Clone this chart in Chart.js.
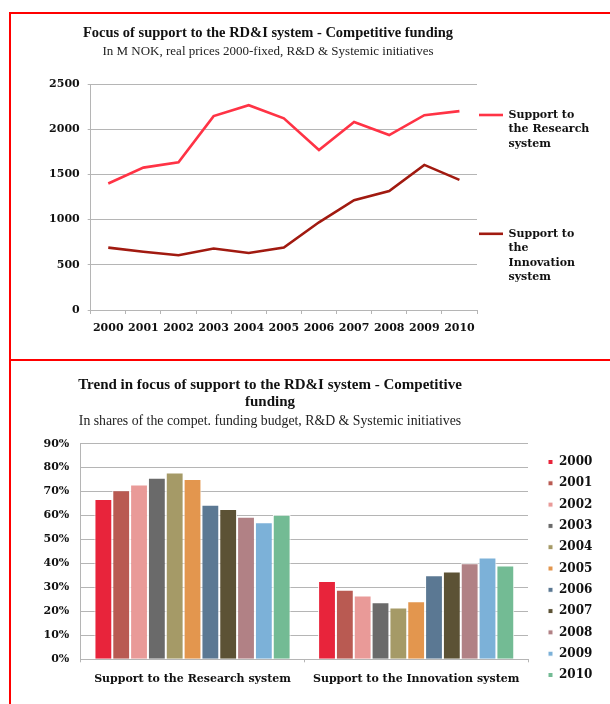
<!DOCTYPE html>
<html>
<head>
<meta charset="utf-8">
<script src="https://cdn.jsdelivr.net/npm/chart.js@4.4.1/dist/chart.umd.min.js"></script>
<style>
  body { margin: 0; background: #fff; overflow: hidden; }
  .frame { position: absolute; left: 9px; top: 12px; width: 620px; height: 720px;
           border-left: 2px solid #f00; border-top: 2px solid #f00; }
  .divider { position: absolute; left: 9px; top: 359px; width: 610px; height: 2px; background: #f00; }
  canvas { position: absolute; }
  /* canvases start left of the page so the centred titles land where the original has them */
  #nokChart { left: -58px; top: 14px; }
  #shareChart { left: -60px; top: 362px; }
</style>
</head>
<body>
<div class="frame"></div>
<div class="divider"></div>
<canvas id="nokChart" width="652" height="345"></canvas>
<canvas id="shareChart" width="660" height="342"></canvas>
<script>
// Top chart: M NOK per year
const years = ['2000', '2001', '2002', '2003', '2004', '2005', '2006', '2007', '2008', '2009', '2010'];
const researchNok = [1400, 1575, 1635, 2145, 2265, 2120, 1770, 2080, 1935, 2155, 2200];
const innovationNok = [690, 645, 605, 680, 630, 690, 970, 1215, 1315, 1605, 1440];

// Bottom chart: shares (%) per group and year
const groups = ['Support to the Research system', 'Support to the Innovation system'];
const researchShare = [66.9, 70.6, 73.0, 75.8, 78.0, 75.2, 64.5, 62.7, 59.5, 57.2, 60.3];
const innovationShare = [32.7, 29.0, 26.6, 23.8, 21.6, 24.2, 35.1, 36.6, 40.1, 42.5, 39.1];
const yearColors = ['#e8243b', '#b95a52', '#e99a98', '#6a6a6a', '#a59a67', '#e3964e',
                    '#5b7893', '#5c5235', '#b18185', '#7cb1d8', '#73bb94'];

const serif = 'DejaVu Serif';
const titleSerif = 'Liberation Serif';
const ink = '#111';
const gridGray = '#b5b5b5';

Chart.defaults.font.family = serif;
Chart.defaults.color = ink;
Chart.defaults.animation = false;

const defaultLabels = Chart.defaults.plugins.legend.labels.generateLabels;

// legend text wrapped like the original; blank lines keep the two items apart
const nokLegendLines = {
  'Support to the Research system': ['Support to', 'the Research', 'system', '', '', '', '', ''],
  'Support to the Innovation system': ['Support to', 'the', 'Innovation', 'system']
};

new Chart(document.getElementById('nokChart'), {
  type: 'line',
  data: {
    labels: years,
    datasets: [{
      label: 'Support to the Research system',
      data: researchNok,
      borderColor: '#ff3345',
      backgroundColor: '#ff3345',
      borderWidth: 2.6,
      pointRadius: 0,
      tension: 0
    }, {
      label: 'Support to the Innovation system',
      data: innovationNok,
      borderColor: '#a11a10',
      backgroundColor: '#a11a10',
      borderWidth: 2.6,
      pointRadius: 0,
      tension: 0
    }]
  },
  options: {
    responsive: false,
    layout: {padding: 0},
    scales: {
      x: {
        offset: true,
        grid: {offset: true, drawOnChartArea: false, tickLength: 4, color: gridGray},
        border: {color: gridGray},
        ticks: {padding: 7.4, maxRotation: 0, minRotation: 0, autoSkip: false,
                font: {size: 11, weight: 'bold'}, color: ink},
        afterFit: (scale) => { scale.height = 49; }
      },
      y: {
        min: 0,
        max: 2500,
        grid: {color: gridGray, tickLength: 3},
        border: {color: gridGray},
        ticks: {stepSize: 500, padding: 8, font: {size: 11, weight: 'bold'}, color: ink,
                callback: (v) => String(v)},
        afterFit: (scale) => { scale.width = 148.7; }
      }
    },
    plugins: {
      title: {
        display: true,
        text: 'Focus of support to the RD&I system - Competitive funding',
        font: {family: titleSerif, size: 14.5, weight: 'bold', lineHeight: 1.2},
        color: ink,
        padding: {top: 10.3, bottom: 0}
      },
      subtitle: {
        display: true,
        text: 'In M NOK, real prices 2000-fixed, R&D & Systemic initiatives',
        font: {family: titleSerif, size: 13, lineHeight: 1.2},
        color: '#222',
        padding: {top: 2.5, bottom: 24.2}
      },
      legend: {
        position: 'right',
        align: 'start',
        weight: 3000,
        maxWidth: 117,
        title: {display: true, text: '', font: {size: 1, lineHeight: 1}, padding: {top: 92.5, bottom: 0}},
        labels: {
          padding: 2,
          usePointStyle: true,
          pointStyle: 'line',
          pointStyleWidth: 24,
          color: ink,
          font: {size: 11, weight: 'bold', lineHeight: '14.6px'},
          generateLabels: (chart) => {
            const items = defaultLabels(chart);
            items.forEach((item) => { item.text = nokLegendLines[item.text]; });
            return items;
          }
        }
      },
      tooltip: {enabled: false}
    }
  }
});

new Chart(document.getElementById('shareChart'), {
  type: 'bar',
  data: {
    labels: groups,
    datasets: years.map((year, i) => ({
      label: year,
      data: [researchShare[i], innovationShare[i]],
      backgroundColor: yearColors[i],
      borderColor: '#fff',
      borderWidth: 1,
      categoryPercentage: 0.877,
      barPercentage: 1
    }))
  },
  options: {
    responsive: false,
    layout: {padding: 0},
    scales: {
      x: {
        grid: {drawOnChartArea: false, tickLength: 3, color: gridGray},
        border: {color: gridGray},
        ticks: {padding: 10, maxRotation: 0, font: {size: 11, weight: 'bold'}, color: ink},
        afterFit: (scale) => { scale.height = 44.7; }
      },
      y: {
        min: 0,
        max: 90,
        grid: {color: gridGray, drawTicks: false},
        border: {color: gridGray},
        ticks: {stepSize: 10, padding: 11.4, font: {size: 11, weight: 'bold'}, color: ink,
                callback: (v) => v + '%'},
        afterFit: (scale) => { scale.width = 140.7; }
      }
    },
    plugins: {
      title: {
        display: true,
        text: ['Trend in focus of support to the RD&I system - Competitive', 'funding'],
        font: {family: titleSerif, size: 15, weight: 'bold', lineHeight: 1.15},
        color: ink,
        padding: {top: 14.4, bottom: 0}
      },
      subtitle: {
        display: true,
        text: 'In shares of the compet. funding budget, R&D & Systemic initiatives',
        font: {family: titleSerif, size: 13.8, lineHeight: 1.2},
        color: '#222',
        padding: {top: 1.8, bottom: 14.4}
      },
      legend: {
        position: 'right',
        align: 'start',
        weight: 3000,
        maxWidth: 72,
        title: {display: true, text: '', font: {size: 1, lineHeight: 1}, padding: {top: 73, bottom: 0}},
        labels: {
          padding: 20,
          boxWidth: 5,
          boxHeight: 5,
          color: ink,
          font: {size: 12, weight: 'bold', lineHeight: '1.3px'},
          generateLabels: (chart) => {
            const items = defaultLabels(chart);
            items.forEach((item) => { item.text = [item.text]; });
            return items;
          }
        }
      },
      tooltip: {enabled: false}
    }
  }
});
</script>
</body>
</html>
